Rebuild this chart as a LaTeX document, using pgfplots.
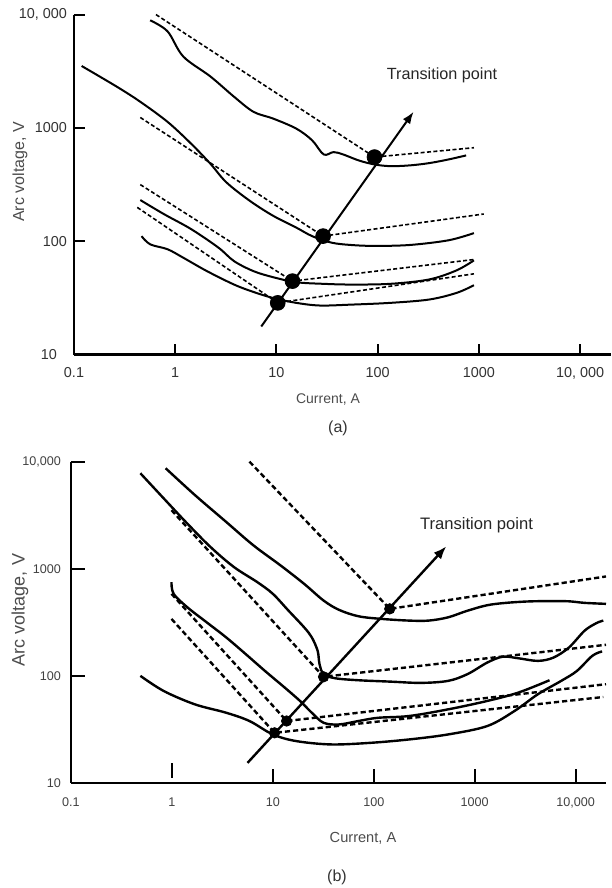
\documentclass[border=0pt]{standalone}
\usepackage{fontspec}
\setmainfont{Liberation Sans}
\usepackage{pgfplots}
\pgfplotsset{compat=1.18}
\usetikzlibrary{arrows.meta}

\tikzset{
  solidA/.style={line width=1pt, smooth, tension=0.55},
  dashA/.style={line width=0.8pt, dash pattern=on 2pt off 1.2pt},
  solidB/.style={line width=1.2pt, smooth, tension=0.55},
  dashB/.style={line width=1.2pt, dash pattern=on 2.6pt off 1.5pt},
}

\begin{document}
\begin{tikzpicture}
\useasboundingbox (0,0) rectangle (305.5pt,444pt);

% ---------- (a) ----------
\begin{axis}[at={(37pt,266.7pt)}, anchor=south west,
  scale only axis, width=268.3pt, height=170pt,
  xmode=log, ymode=log,
  xmin=0.1, xmax=20000, ymin=10, ymax=10000,
  axis x line*=bottom, axis y line*=left,
  axis line style={-, line width=1.2pt},
  minor tick length=0pt, minor tick style={draw=none},
  tick align=inside, major tick length=5.5pt,
  tick style={line width=1pt, black},
  clip=false,
  xtick={0.1,1,10,100,1000,10000},
  xticklabels={0.1,1,10,100,1000,{10, 000}},
  ytick={10,100,1000,10000},
  yticklabels={{10\kern5pt},100,1000,{10, 000}},
  ticklabel style={font=\fontsize{7.2}{8}\selectfont, black!80},
  xticklabel style={yshift=-3pt},
]
\addplot[solidA] coordinates {(0.565,8900) (0.84,7110) (1.2,4270) (2.23,2840) (3.81,1885) (5.93,1387) (9.25,1210) (15.7,986) (22.5,778) (29.3,583) (36.6,612) (45.7,583) (65.2,516) (93,476) (133,460) (207,467) (322,489) (501,527) (748,572)};
\addplot[dashA] coordinates {(0.646,10000) (93,553) (893,669)};
\addplot[solidA] coordinates {(0.119,3520) (0.265,2310) (0.452,1700) (0.841,1130) (1.435,726) (2.23,482) (3.19,332) (5.43,228) (9.25,168) (15.7,132) (22.5,111) (35,97.2) (54.6,92.7) (93,91) (207,92.7) (501,102) (893,118)};
\addplot[dashA] coordinates {(0.452,1236) (28.9,111) (1117,174)};
\addplot[solidA] coordinates {(0.452,231) (0.77,174) (1.435,128) (2.67,87.9) (3.81,66.8) (5.93,54.5) (9.25,48.2) (15.7,43.5) (29.3,42.1) (54.6,41.5) (133,42.1) (322,46) (600,55.3) (893,67.8)};
\addplot[dashA] coordinates {(0.452,316) (14.4,44.5) (893,69)};
\addplot[solidA] coordinates {(0.465,111) (0.565,94) (0.84,85) (1.2,71.6) (2.05,54.6) (3.81,41.5) (5.93,35.7) (9.25,31.6) (15.7,28.6) (26.9,27.1) (54.6,27.6) (133,28.6) (322,30.6) (600,35) (893,40.9)};
\addplot[dashA] coordinates {(0.422,199) (10.3,28.6) (893,51.6)};
\addplot[line width=1pt, -{Latex[length=6pt,width=4.5pt]}] coordinates {(7.08,17.7) (226,1387)};
\addplot[only marks, mark=*, mark size=3.7pt, black] coordinates {(10.3,28.6) (14.4,44.5) (28.9,111) (93,553)};
\node[anchor=west, font=\fontsize{8.1}{9}\selectfont, black!85] at (axis cs:105,2930) {Transition point};
\end{axis}

% ---------- (b) ----------
\begin{axis}[at={(35.5pt,52.5pt)}, anchor=south west,
  scale only axis, width=267.5pt, height=160.7pt,
  xmode=log, ymode=log,
  xmin=0.1, xmax=20000, ymin=10, ymax=10000,
  axis x line*=bottom, axis y line*=left,
  axis line style={-, line width=1.3pt},
  minor tick length=0pt, minor tick style={draw=none},
  tick align=inside, major tick length=7pt,
  tick style={line width=1pt, black},
  clip=false,
  xtick={10,100,1000,10000},
  xticklabels={10,100,1000,{10,000}},
  extra x ticks={0.1,1}, extra x tick labels={0.1,1},
  extra x tick style={major tick length=0pt},
  ytick={10,100,1000,10000},
  yticklabels={10,100,1000,{10,000}},
  ticklabel style={font=\fontsize{6.3}{7}\selectfont, black!75},
  xticklabel style={yshift=-4pt},
  yticklabel style={xshift=-1.5pt},
]
\addplot[solidB] coordinates {(0.867,8660) (1.69,4870) (3.44,2740) (6.41,1655) (11.9,1075) (20.4,723) (31.8,505) (45.3,413) (70.6,360) (120,340) (224,328) (350,328) (546,352) (852,406) (1453,463) (3236,494) (7870,498) (12270,480) (20000,470)};
\addplot[dashB] coordinates {(5.86,10000) (144,422) (20000,847)};
\addplot[solidB] coordinates {(0.487,7780) (0.83,4530) (1.42,2640) (2.41,1596) (4.11,1038) (7.01,750) (10,583) (14.3,406) (20.4,284) (24.3,229) (27.8,171) (29,129) (31.8,104) (41.5,95) (70.6,91) (144,88.4) (293,86) (546,89.8) (852,104) (1330,133) (1898,151) (2706,146) (4220,138) (6020,148) (8590,184) (12270,264) (16000,310) (18800,328)};
\addplot[dashB] coordinates {(0.99,3520) (31.8,98) (20000,195)};
\addplot[solidB] coordinates {(0.99,750) (1.04,583) (1.42,437) (2.21,316) (3.44,229) (5.37,160) (8.37,111) (13.1,77.8) (18.6,58.3) (24.3,45.3) (31.8,36.5) (45.3,35.2) (70.6,37.9) (110,40.6) (224,42.2) (546,48.7) (1330,58.3) (2706,69.8) (5510,91)};
\addplot[dashB] coordinates {(0.99,583) (13.7,37.9) (20000,83.6)};
\addplot[solidB] coordinates {(0.487,100) (0.83,72.2) (1.69,54.2) (3.44,45.3) (5.86,37.9) (10,28.4) (17.1,24.6) (37.9,22.9) (92.3,23.7) (224,25.5) (546,28.4) (1330,34) (2480,47) (4220,67.3) (7200,89.8) (10280,111) (14660,154) (18300,169)};
\addplot[dashB] coordinates {(0.99,340) (10.4,29.4) (18800,63.5)};
\addplot[line width=1.2pt, -{Latex[length=6.5pt,width=5pt]}] coordinates {(5.61,15.4) (523,1618)};
\addplot[only marks, mark=*, mark size=2.6pt, black] coordinates {(10.4,29.4) (13.7,37.9) (31.8,98) (144,422)};
\draw[line width=1pt] ([yshift=2.7pt]axis cs:1,10) -- ([yshift=10pt]axis cs:1,10);
\node[anchor=west, font=\fontsize{8.3}{9}\selectfont, black!85] at (axis cs:245,2550) {Transition point};
\end{axis}

% axis titles and panel letters
\node[rotate=90, font=\fontsize{8}{9}\selectfont, black!70] at (10pt,358pt) {Arc voltage, V};
\node[font=\fontsize{7}{8}\selectfont, black!70] at (164pt,244pt) {Current, A};
\node[font=\fontsize{8}{9}\selectfont, black!80] at (169pt,230pt) {(a)};
\node[rotate=90, font=\fontsize{9}{10}\selectfont, black!70] at (10pt,139pt) {Arc voltage, V};
\node[font=\fontsize{7.3}{8}\selectfont, black!70] at (181.5pt,25pt) {Current, A};
\node[font=\fontsize{8}{9}\selectfont, black!80] at (168.5pt,5.5pt) {(b)};
\end{tikzpicture}
\end{document}
